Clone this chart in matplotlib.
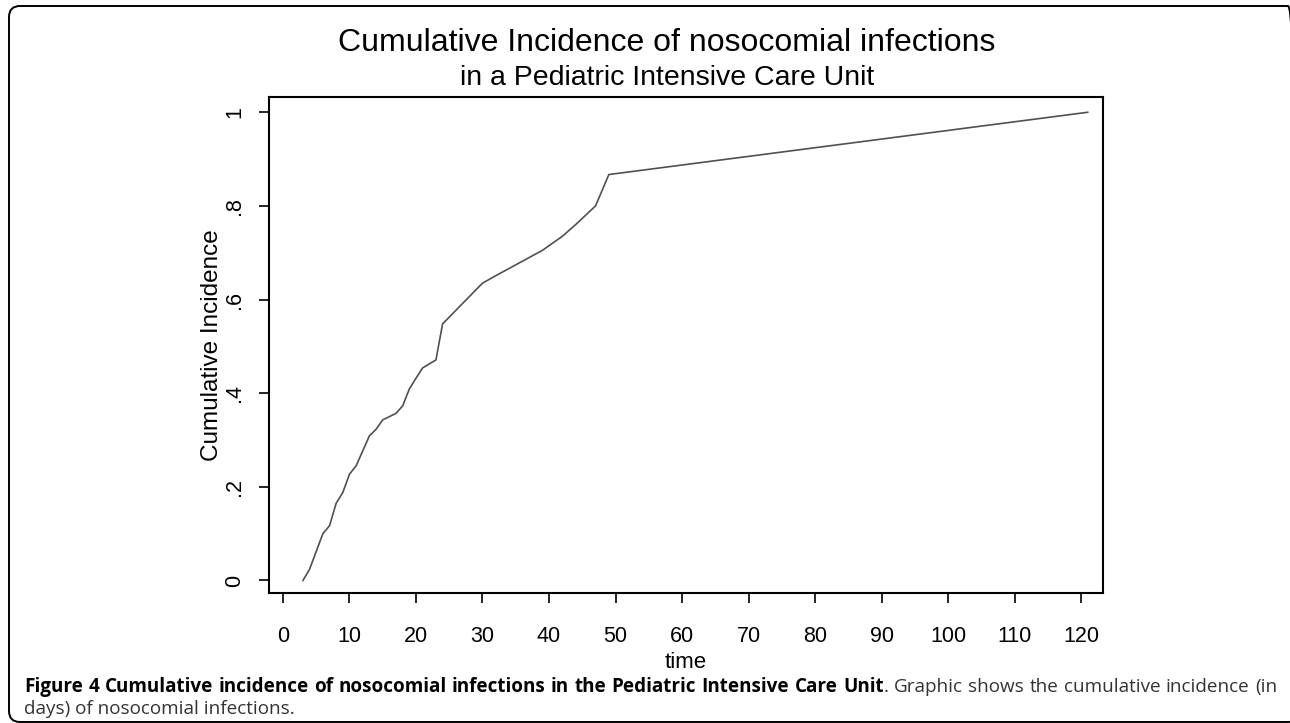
import numpy as np
import matplotlib
matplotlib.use("Agg")
import matplotlib.pyplot as plt
from matplotlib.patches import FancyBboxPatch
from matplotlib.transforms import IdentityTransform

# --- data (days, cumulative incidence) ---
days = [3, 4, 6, 7, 8, 9, 10, 11, 13, 14, 15, 17, 18, 19, 20, 21, 23, 24,
        30, 32, 39, 42, 44, 47, 49, 121]
cum_inc = [0.0, 0.024, 0.10, 0.117, 0.165, 0.188, 0.227, 0.245, 0.309, 0.323,
           0.343, 0.357, 0.373, 0.409, 0.432, 0.454, 0.471, 0.548,
           0.635, 0.651, 0.705, 0.735, 0.76, 0.80, 0.867, 1.0]

xticks = list(range(0, 121, 10))
yticks = [0, 0.2, 0.4, 0.6, 0.8, 1.0]
ytick_labels = ["0", ".2", ".4", ".6", ".8", "1"]

title = "Cumulative Incidence of nosocomial infections"
subtitle = "in a Pediatric Intensive Care Unit"
cap_bold = "Figure 4 Cumulative incidence of nosocomial infections in the Pediatric Intensive Care Unit"
cap_rest = ". Graphic shows the cumulative incidence (in"
cap_line2 = "days) of nosocomial infections."

plt.rcParams["font.family"] = ["Liberation Sans", "DejaVu Sans"]

W, H = 1290, 723
fig = plt.figure(figsize=(W / 100, H / 100), dpi=100)

# plot box in pixels: x 269..1103, y 97..593 (from top)
L, R, T, B = 269, 1103, 97, 593
ax = fig.add_axes([L / W, 1 - B / H, (R - L) / W, (B - T) / H])

ax.plot(days, cum_inc, color="#505050", lw=1.2)
ax.set_xlim(-2.1, 123.3)
ax.set_ylim(-0.0267, 1.0326)

ax.set_xticks(xticks)
ax.set_yticks(yticks)
ax.set_yticklabels(ytick_labels, rotation=90, va="center")
ax.tick_params(axis="both", length=7, width=1.2, labelsize=15.5, color="black")
ax.tick_params(axis="x", pad=17)
ax.tick_params(axis="y", pad=10)
for s in ax.spines.values():
    s.set_linewidth(1.5)

ax.set_xlabel("time", fontsize=16)
ax.xaxis.set_label_coords(0.5, -(662 - B) / (B - T))
ax.xaxis.label.set_va("center")
ax.set_ylabel("Cumulative Incidence", fontsize=17.5)
ax.yaxis.set_label_coords(-(L - 212) / (R - L), 0.5)
ax.yaxis.label.set_va("center")

fig.text(667 / W, 1 - 43 / H, title, ha="center", va="center", fontsize=23)
fig.text(667 / W, 1 - 78 / H, subtitle, ha="center", va="center", fontsize=20.5)

# outer rounded frame
frame = FancyBboxPatch((9, 1), 1290, 716, boxstyle="round,pad=0,rounding_size=11",
                       transform=IdentityTransform(), fill=False, lw=1.4,
                       ec="black", clip_on=False)
fig.patches.append(frame)

# caption, first line justified
cap_font = ["Open Sans", "DejaVu Sans"]
cap_size = 13.6
x0, x1 = 24, 1277
y1 = H - 692
y2 = H - 714
IT = IdentityTransform()
renderer = fig.canvas.get_renderer()

bold_words = cap_bold.split(" ")
rest_words = cap_rest.split(" ")  # first item is "." glued to "Unit"
tokens = [(w, "bold") for w in bold_words] + [(w, "normal") for w in rest_words[1:]]

items = []
for i, (w, wt) in enumerate(tokens):
    col = "black" if wt == "bold" else "#333333"
    t = fig.text(0, y1, w, fontsize=cap_size, fontweight=wt, family=cap_font,
                 transform=IT, va="baseline", color=col)
    texts, offs = [t], [0]
    width = t.get_window_extent(renderer).width
    if i == len(bold_words) - 1:
        t2 = fig.text(0, y1, rest_words[0], fontsize=cap_size, family=cap_font,
                      transform=IT, va="baseline", color="#333333")
        texts.append(t2)
        offs.append(width)
        width += t2.get_window_extent(renderer).width
    items.append((texts, offs, width))

total = sum(it[2] for it in items)
gap = (x1 - x0 - total) / (len(items) - 1)
x = x0
for texts, offs, w in items:
    for t, o in zip(texts, offs):
        t.set_x(x + o)
    x += w + gap

fig.text(x0, y2, cap_line2, fontsize=cap_size, family=cap_font, color="#333333",
         transform=IT, va="baseline")

fig.savefig("out.png", dpi=100)
